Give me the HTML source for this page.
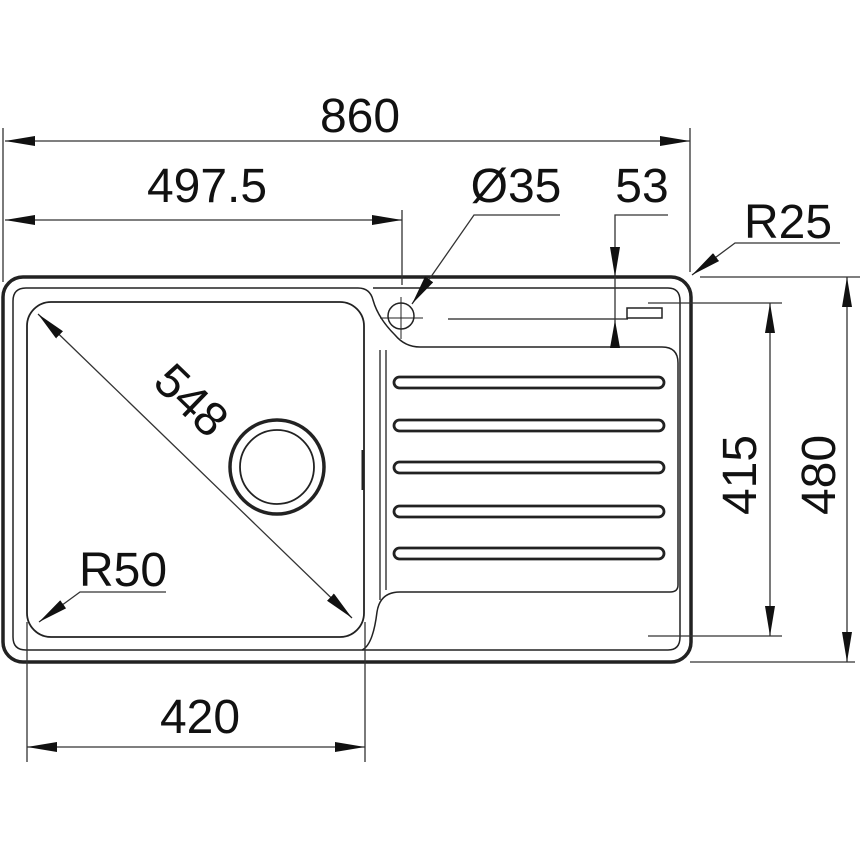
<!DOCTYPE html>
<html><head><meta charset="utf-8"><style>
html,body{margin:0;padding:0;background:#fff}
svg{display:block}
text{font-family:"Liberation Sans",Arial,sans-serif;font-size:48px;fill:#111}
</style></head><body>
<svg width="860" height="860" viewBox="0 0 860 860" xmlns="http://www.w3.org/2000/svg">
<defs>
<marker id="a" viewBox="0 0 30 10" refX="30" refY="5" markerWidth="30" markerHeight="10" markerUnits="userSpaceOnUse" orient="auto-start-reverse">
<path d="M0,0 L30,5 L0,10 Z" fill="#111"/>
</marker>
</defs>
<g fill="none" stroke="#222">
<rect x="3" y="277" width="688" height="385" rx="20" stroke-width="3.5"/>
<path d="M26,288 H358 Q370,288 373,300 Q378,318 395,335 Q405,347 420,347 H662 Q678,347 678,363 V585 Q678,592 670,592 H400 Q380,592 377,612 Q373,645 362,650 H26 Q13,650 13,637 V301 Q13,288 26,288 Z" stroke-width="1.5"/>
<path d="M362,650 H668 Q680,650 680,637 V301 Q680,288 668,288 H373" stroke-width="1.5"/>
<line x1="380" y1="350" x2="380" y2="600" stroke-width="1.3"/>
<line x1="386" y1="350" x2="386" y2="590" stroke-width="1.3"/>
<rect x="27" y="302" width="337" height="335" rx="24" stroke-width="1.8"/>
<line x1="363" y1="450" x2="363" y2="490" stroke-width="3"/>
<circle cx="277" cy="467" r="47" stroke-width="3.5"/>
<circle cx="277" cy="467" r="37" stroke-width="1.8"/>
<circle cx="401" cy="316" r="13" stroke-width="1.5"/>
<line x1="380" y1="318" x2="423" y2="318" stroke-width="1"/>
<line x1="401" y1="297" x2="401" y2="339" stroke-width="1"/>
<line x1="448" y1="319" x2="628" y2="319" stroke-width="1.3"/>
<rect x="627" y="308" width="35" height="10" stroke-width="1.5"/>
<g stroke-width="2.8">
<rect x="394" y="377" width="270" height="11" rx="5.5"/>
<rect x="394" y="420" width="270" height="11" rx="5.5"/>
<rect x="394" y="462" width="270" height="11" rx="5.5"/>
<rect x="394" y="506" width="270" height="11" rx="5.5"/>
<rect x="394" y="548" width="270" height="11" rx="5.5"/>
</g>
</g>
<g stroke="#333" stroke-width="1.3" fill="none">
<line x1="3" y1="128" x2="3" y2="282"/>
<line x1="690" y1="128" x2="690" y2="272"/>
<line x1="402" y1="210" x2="402" y2="285"/>
<line x1="5" y1="141" x2="690" y2="141" marker-start="url(#a)" marker-end="url(#a)"/>
<line x1="5" y1="220" x2="402" y2="220" marker-start="url(#a)" marker-end="url(#a)"/>
<polyline points="560,215 474,215 412,304" marker-end="url(#a)"/>
<polyline points="668,215 615,215 615,277" marker-end="url(#a)"/>
<line x1="615" y1="277" x2="615" y2="348"/>
<polyline points="840,243 735,243 692,275" marker-end="url(#a)"/>
<line x1="700" y1="277" x2="860" y2="277"/>
<line x1="690" y1="662" x2="855" y2="662"/>
<line x1="648" y1="303" x2="782" y2="303"/>
<line x1="648" y1="636" x2="782" y2="636"/>
<line x1="770" y1="303" x2="770" y2="636" marker-start="url(#a)" marker-end="url(#a)"/>
<line x1="847" y1="277" x2="847" y2="662" marker-start="url(#a)" marker-end="url(#a)"/>
<line x1="27" y1="622" x2="27" y2="762"/>
<line x1="365" y1="622" x2="365" y2="762"/>
<line x1="27" y1="747" x2="365" y2="747" marker-start="url(#a)" marker-end="url(#a)"/>
<line x1="38" y1="314" x2="352" y2="618" marker-start="url(#a)" marker-end="url(#a)"/>
<polyline points="166,592 80,592 39,622" marker-end="url(#a)"/>
</g>
<path d="M615,320 L610,348 L620,348 Z" fill="#111"/>
<text x="360" y="132" text-anchor="middle">860</text>
<text x="207" y="202" text-anchor="middle">497.5</text>
<text x="516" y="202" text-anchor="middle">Ø35</text>
<text x="642" y="202" text-anchor="middle">53</text>
<text x="788" y="238" text-anchor="middle">R25</text>
<text x="123" y="586" text-anchor="middle">R50</text>
<text x="200" y="733" text-anchor="middle">420</text>
<text transform="translate(756,475) rotate(-90)" text-anchor="middle">415</text>
<text transform="translate(835,475) rotate(-90)" text-anchor="middle">480</text>
<text transform="translate(180,412) rotate(44)" text-anchor="middle">548</text>
</svg>
</body></html>
